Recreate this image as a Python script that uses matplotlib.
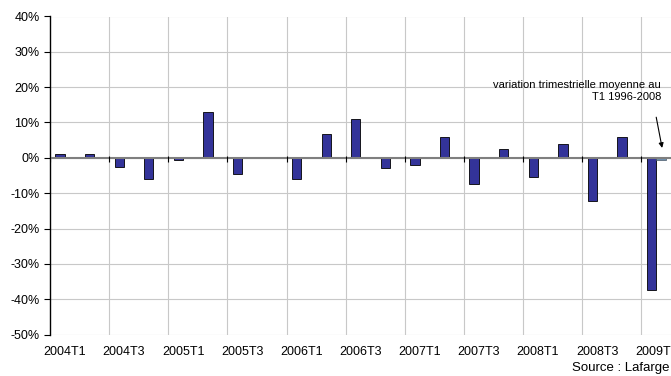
import matplotlib.pyplot as plt
import numpy as np

plt.rcParams['font.family'] = ['Liberation Sans', 'DejaVu Sans']

# Trimestres 2004T1 -> 2009T1
quarters = [f'{y}T{q}' for y in range(2004, 2010) for q in range(1, 5)][:21]
# variation trimestrielle (%)
variation = [1.0, 1.0, -2.6, -6.1, -0.5, 13.0, -4.6, 0.2, -5.9, 6.7, 11.0,
             -2.8, -2.0, 5.8, -7.3, 2.5, -5.5, 3.9, -12.2, 5.8, -37.3]
# variation moyenne au T1 1996-2008, affichée seulement pour 2009T1
moyenne_t1 = [0.0] * 20 + [-0.6]

fig = plt.figure(figsize=(6.71, 3.76), dpi=100)
ax = fig.add_axes([50 / 671, 41.5 / 376, 621 / 671, 318 / 376])

x = np.arange(len(quarters))
w = 0.315
ax.bar(x - w / 2, variation, width=w, color='#333399', edgecolor='black',
       linewidth=0.6, zorder=3)
ax.bar(x[-1:] + w / 2, moyenne_t1[-1:], width=w, color='#6f8fae',
       edgecolor='#4a5a6a', linewidth=0.5, zorder=3)

ax.set_xlim(-0.5, len(quarters) - 0.5)
ax.set_ylim(-50, 40)
yt = np.arange(-50, 41, 10)
ax.set_yticks(yt)
ax.set_yticklabels([f'{v}%' for v in yt], fontsize=9)

# étiquettes un trimestre sur deux
ax.set_xticks(x[::2])
ax.set_xticklabels(quarters[::2], fontsize=9)
ax.tick_params(axis='x', length=0, pad=8)
ax.tick_params(axis='y', length=4, width=0.8, direction='out')

# séparations entre groupes de deux trimestres
bounds = np.arange(1.5, len(quarters) - 0.5, 2)
ax.set_xticks(bounds, minor=True)
ax.tick_params(axis='x', which='minor', length=0)
ax.grid(axis='x', which='minor', color='#c8c8c8', linewidth=0.8, zorder=0)
ax.grid(axis='y', which='major', color='#c8c8c8', linewidth=0.8, zorder=0)
ax.set_axisbelow(True)

# axe horizontal à 0 avec ses graduations
ax.axhline(0, color='#7f7f7f', linewidth=1.5, zorder=4)
ax.vlines(np.r_[-0.5, bounds], -1.3, 0.4, color='black', linewidth=0.8,
          zorder=4)

for side in ('top', 'right', 'bottom'):
    ax.spines[side].set_visible(False)
ax.spines['left'].set_linewidth(1.0)

ax.text(20.17, 18.8, 'variation trimestrielle moyenne au\nT1 1996-2008',
        fontsize=8, ha='right', va='center', linespacing=1.25)
ax.annotate('', xy=(20.2, 2.8), xytext=(20.0, 11.5),
            arrowprops=dict(arrowstyle='-|>', color='black', lw=0.8,
                            mutation_scale=7, shrinkA=0, shrinkB=0))

fig.text(669 / 671, 8 / 376, 'Source : Lafarge', fontsize=9.5, ha='right',
         va='center')

fig.savefig('out.png', dpi=100)
